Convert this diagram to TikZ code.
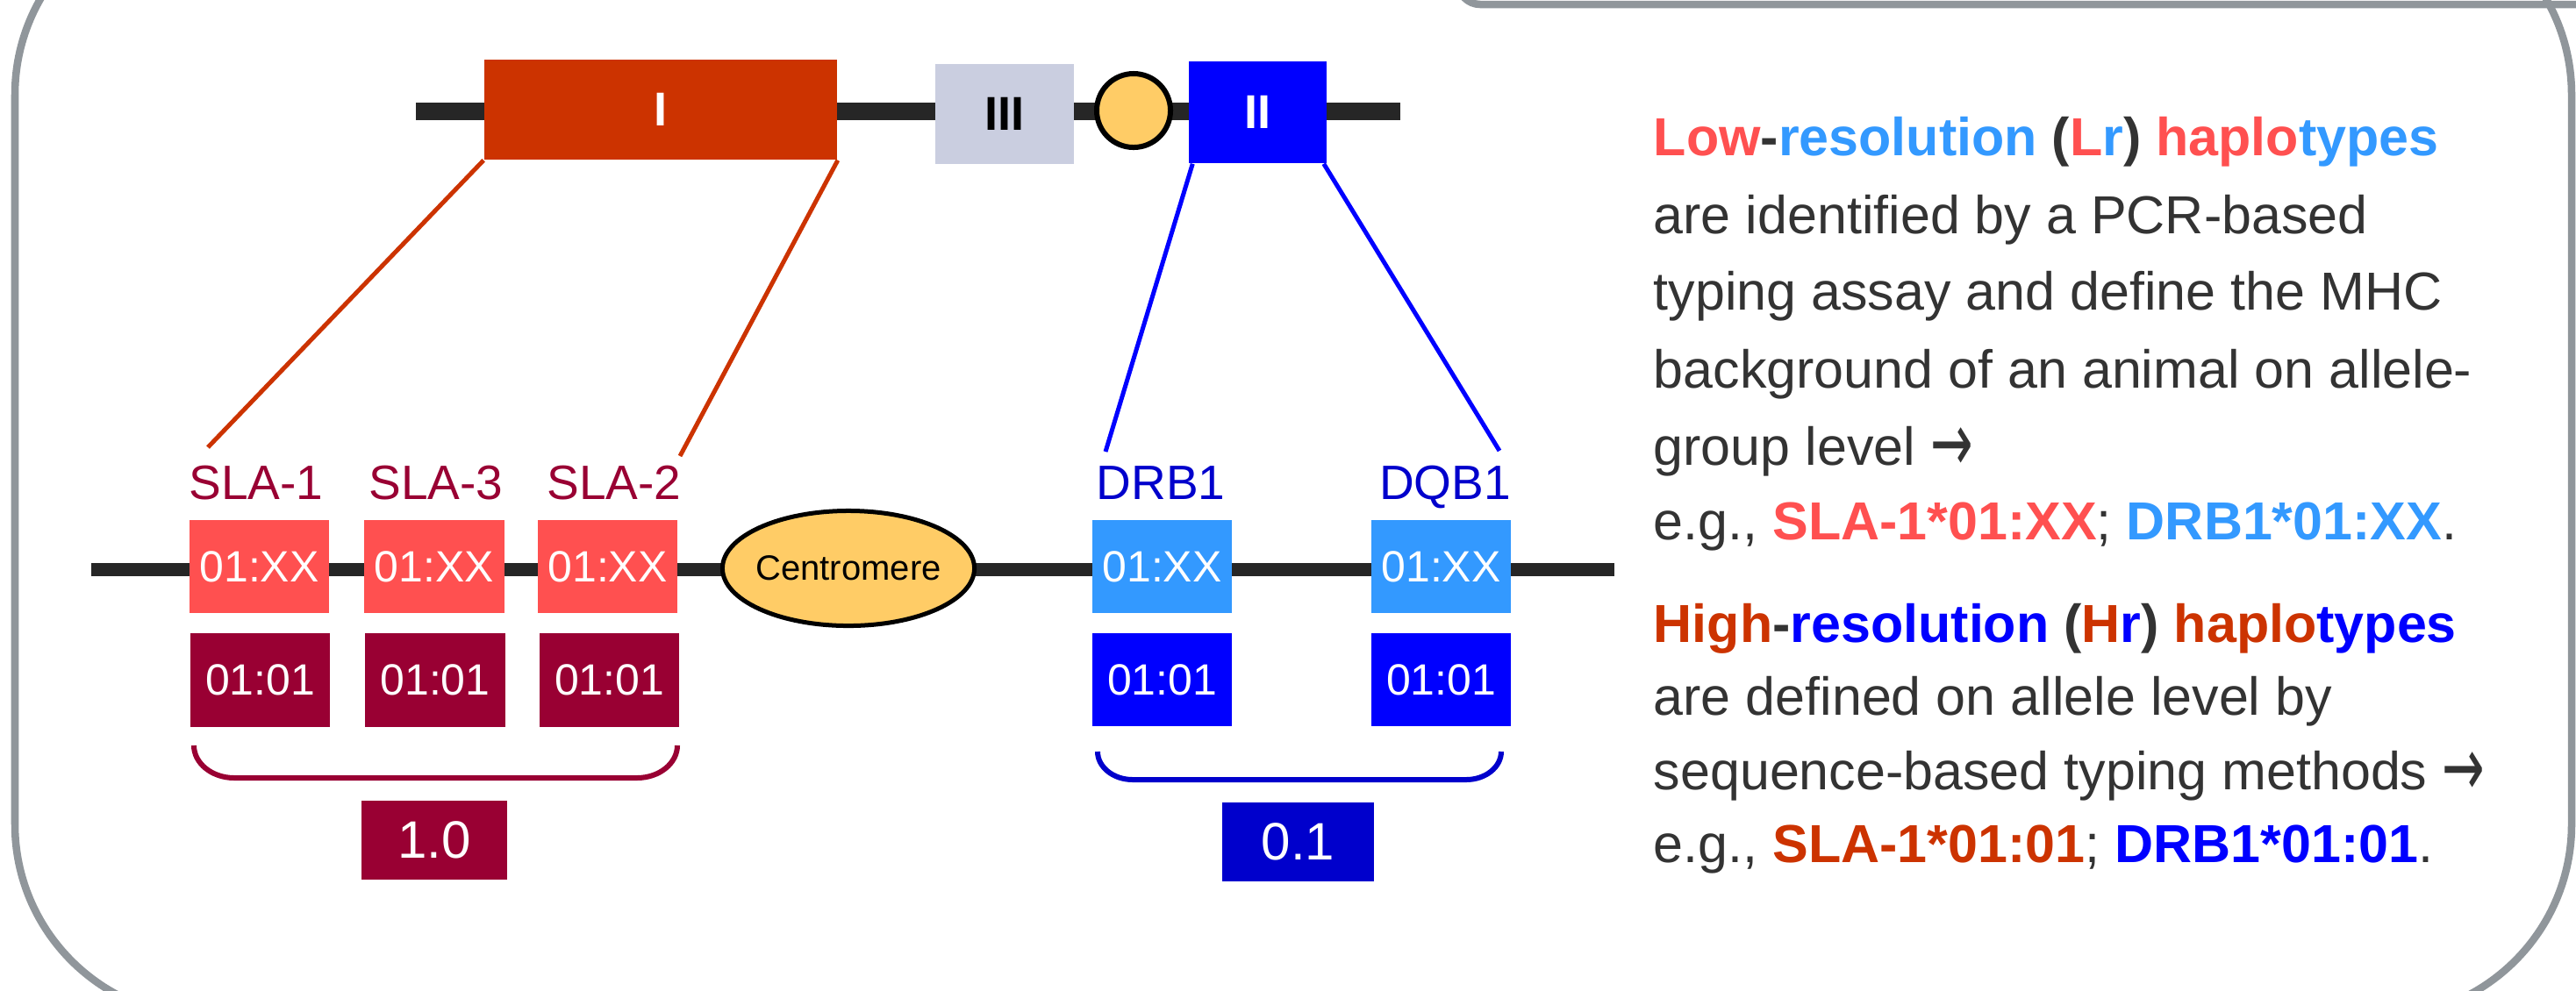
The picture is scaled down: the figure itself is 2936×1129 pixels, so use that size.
\documentclass[tikz,border=0pt]{standalone}
\usepackage{fontspec}
\setmainfont{Liberation Sans}
\newfontfamily\arrowfont{DejaVu Sans}
\usetikzlibrary{shapes.geometric}
\definecolor{frameC}{RGB}{144,150,155}
\definecolor{barC}{RGB}{38,38,38}
\definecolor{regI}{RGB}{204,51,0}
\definecolor{regII}{RGB}{0,0,255}
\definecolor{regIII}{RGB}{202,206,224}
\definecolor{centroC}{RGB}{255,204,102}
\definecolor{lowR}{RGB}{255,80,80}
\definecolor{lowB}{RGB}{51,153,255}
\definecolor{maroonC}{RGB}{153,0,51}
\definecolor{navyC}{RGB}{0,0,204}
\definecolor{txtC}{RGB}{51,51,51}
\newcommand{\bigarrow}{{\arrowfont\raisebox{-0.12em}{\scalebox{0.95}[1.55]{→}}}}
\begin{document}
\begin{tikzpicture}[x=0.01cm,y=-0.01cm,
  region/.style={rectangle, inner sep=0, text=white, font=\bfseries\fontsize{15.4}{18}\selectfont},
  genebox/.style={rectangle, inner sep=0, minimum width=1.59cm, minimum height=1.06cm, text=white, font=\fontsize{14.2}{16}\selectfont},
  genelab/.style={anchor=base, inner sep=0, font=\fontsize{15.65}{18}\selectfont},
  valbox/.style={rectangle, inner sep=0, minimum height=0.9cm, text=white, font=\fontsize{17.07}{20}\selectfont},
  connI/.style={draw=regI, line width=0.5mm},
  connII/.style={draw=regII, line width=0.5mm},
  bracket/.style={line width=0.6mm},
  desc/.style={anchor=base west, inner sep=0, text=txtC, font=\fontsize{17.35}{20}\selectfont},
  frameline/.style={draw=frameC, line width=0.85mm}]
\useasboundingbox (0,0) rectangle (2936,1129);
\fill[white] (0,0) rectangle (2936,1129);
\clip (0,0) rectangle (2936,1129);
% frame
\draw[frameline, rounded corners=2.2cm] (17,-112) rectangle (2931,1160);
\draw[frameline, rounded corners=0.25cm] (1662,-100) -- (1662,5) -- (2960,5);
% top chromosome
\coordinate (tbL) at (474,127);
\coordinate (tbR) at (1596,127);
\draw[barC, line width=2mm] (tbL) -- (tbR);
\node[region, fill=regI, minimum width=4.02cm, minimum height=1.14cm] (I) at (753,125) {I};
\node[region, fill=regIII, text=black, minimum width=1.58cm, minimum height=1.14cm] (III) at (1145,130) {III};
\node[circle, draw=black, line width=0.6mm, fill=centroC, minimum size=0.84cm, inner sep=0] (cen1) at (1292,126) {};
\node[region, fill=regII, minimum width=1.57cm, minimum height=1.16cm] (II) at (1433.5,128) {II};
% lower chromosome
\coordinate (lbL) at (104,649);
\coordinate (lbR) at (1840,649);
\draw[barC, line width=1.5mm] (lbL) -- (lbR);
\node[ellipse, draw=black, line width=0.5mm, fill=centroC, minimum width=2.87cm, minimum height=1.31cm, inner sep=0] (centro) at (967,648) {};
\node[inner sep=0, font=\fontsize{11.38}{13}\selectfont] (centroT) at (centro.center) {Centromere};
% labels
\node[genelab, text=maroonC] (l1) at (292,569) {SLA-1};
\node[genelab, text=maroonC] (l3) at (497,569) {SLA-3};
\node[genelab, text=maroonC] (l2) at (700,569) {SLA-2};
\node[genelab, text=navyC] (ldr) at (1323,569) {DRB1};
\node[genelab, text=navyC] (ldq) at (1647,569) {DQB1};
% allele boxes
\node[genebox, fill=lowR] (a1) at (295.5,646) {01:XX};
\node[genebox, fill=lowR] (a3) at (495,646) {01:XX};
\node[genebox, fill=lowR] (a2) at (692.5,646) {01:XX};
\node[genebox, fill=lowB] (adr) at (1324.5,646) {01:XX};
\node[genebox, fill=lowB] (adq) at (1642.5,646) {01:XX};
\node[genebox, fill=maroonC] (b1) at (296.5,775.5) {01:01};
\node[genebox, fill=maroonC] (b3) at (496,775.5) {01:01};
\node[genebox, fill=maroonC] (b2) at (694.5,775.5) {01:01};
\node[genebox, fill=regII] (bdr) at (1324.5,775) {01:01};
\node[genebox, fill=regII] (bdq) at (1642.5,775) {01:01};
% zoom connectors
\coordinate (e1) at (237,510);
\coordinate (e2) at (775,520);
\coordinate (e3) at (1260,515);
\coordinate (e4) at (1709,514);
\draw[connI] (I.south west) -- (e1);
\draw[connI] (I.south east) -- (e2);
\draw[connII] ([xshift=0.05cm]II.south west) -- (e3);
\draw[connII] ([xshift=-0.04cm]II.south east) -- (e4);
% brackets
\draw[bracket, maroonC] (221,850) .. controls (221,870.4) and (241.6,887) .. (267,887) -- (726,887) .. controls (751.4,887) and (772,870.4) .. (772,850);
\draw[bracket, navyC] (1251,857) .. controls (1251,874.7) and (1268.9,889) .. (1291,889) -- (1671,889) .. controls (1693.1,889) and (1711,874.7) .. (1711,857);
% values
\node[valbox, fill=maroonC, minimum width=1.66cm] (v1) at (495,958) {1.0};
\node[valbox, fill=navyC, minimum width=1.73cm] (v2) at (1479.5,960) {0.1};
% description
\node[desc] (t1) at (1884,177) {\bfseries\textcolor{lowR}{Low}-\textcolor{lowB}{resolution} (\textcolor{lowR}{L}\textcolor{lowB}{r}) \textcolor{lowR}{haplo}\textcolor{lowB}{types}};
\node[desc] (t2) at (1884,266) {are identified by a PCR-based};
\node[desc] (t3) at (1884,353) {typing assay and define the MHC};
\node[desc] (t4) at (1884,442) {background of an animal on allele-};
\node[desc] (t5) at (1884,530) {group level \bigarrow};
\node[desc] (t6) at (1884,615) {e.g., \textbf{\textcolor{lowR}{SLA-1*01:XX}}; \textbf{\textcolor{lowB}{DRB1*01:XX}}.};
\node[desc] (t7) at (1884,732) {\bfseries\textcolor{regI}{High}-\textcolor{regII}{resolution} (\textcolor{regI}{H}\textcolor{regII}{r}) \textcolor{regI}{haplo}\textcolor{regII}{types}};
\node[desc] (t8) at (1884,815) {are defined on allele level by};
\node[desc] (t9) at (1884,900) {sequence-based typing methods \bigarrow};
\node[desc] (t10) at (1884,983) {e.g., \textbf{\textcolor{regI}{SLA-1*01:01}}; \textbf{\textcolor{regII}{DRB1*01:01}}.};
\end{tikzpicture}
\end{document}
